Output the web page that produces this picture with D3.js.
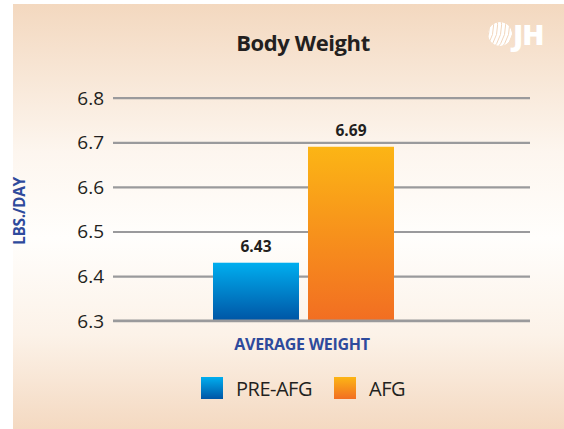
<!DOCTYPE html>
<html><head><meta charset="utf-8">
<script src="https://cdn.jsdelivr.net/npm/d3@7"></script>
<style>body{margin:0;background:#fff}svg{display:block}</style>
</head><body>
<svg id="c" width="564" height="429"></svg>
<script>
const categories = ["PRE-AFG", "AFG"];
const values = [6.43, 6.69];
const valueLabels = ["6.43", "6.69"];
const yTicks = [6.3, 6.4, 6.5, 6.6, 6.7, 6.8];
const xLabel = "AVERAGE WEIGHT";
const yLabel = "LBS./DAY";
const title = "Body Weight";

const svg = d3.select("#c");
const defs = svg.append("defs");
const font = "'Open Sans', 'Noto Sans', sans-serif";

const bg = defs.append("linearGradient").attr("id","bg").attr("x1",0).attr("y1",0).attr("x2",0).attr("y2",1);
bg.append("stop").attr("offset","0").attr("stop-color","#f3d8bf");
bg.append("stop").attr("offset","0.35").attr("stop-color","#fdf6ef");
bg.append("stop").attr("offset","0.55").attr("stop-color","#fffefc");
bg.append("stop").attr("offset","0.78").attr("stop-color","#fcf2e8");
bg.append("stop").attr("offset","1").attr("stop-color","#f4d9c1");
svg.append("rect").attr("x",13).attr("y",4).attr("width",551).attr("height",425).attr("fill","url(#bg)");

const grads = [["#00aeef","#0055a5"],["#fcb515","#f26e22"]];
grads.forEach((g,i)=>{
  const lg = defs.append("linearGradient").attr("id","g"+i).attr("x1",0).attr("y1",0).attr("x2",0).attr("y2",1);
  lg.append("stop").attr("offset","0").attr("stop-color",g[0]);
  lg.append("stop").attr("offset","1").attr("stop-color",g[1]);
});

const y = d3.scaleLinear().domain([6.3, 6.8]).range([320.7, 97.7]);
const x = d3.scaleBand().domain(categories).range([213, 394]).paddingInner(9/95).paddingOuter(0);

// gridlines
const yAxis = d3.axisLeft(y).tickValues(yTicks).tickFormat(d3.format(".1f")).tickSize(-417).tickPadding(12);
const ga = svg.append("g").attr("transform","translate(113,0)").call(yAxis);
ga.select(".domain").remove();
ga.selectAll(".tick line").attr("stroke","#9a9a9c").attr("stroke-width",2.2);
ga.selectAll(".tick text").attr("font-family",font).attr("font-size",19).attr("fill","#231f20").attr("x",-9).attr("dy","0.34em");

// bars
svg.selectAll("rect.bar").data(values).join("rect").attr("class","bar")
  .attr("x",(d,i)=>x(categories[i])).attr("width",x.bandwidth())
  .attr("y",d=>y(d)).attr("height",d=>y(6.3)-y(d))
  .attr("fill",(d,i)=>`url(#g${i})`);

// baseline redraw over bars
svg.append("line").attr("x1",113).attr("x2",530).attr("y1",y(6.3)).attr("y2",y(6.3)).attr("stroke","#9a9a9c").attr("stroke-width",2.2);

// value labels
svg.selectAll("text.val").data(values).join("text").attr("class","val")
  .attr("x",(d,i)=>x(categories[i])+x.bandwidth()/2).attr("y",d=>y(d)-11)
  .attr("text-anchor","middle").attr("font-family",font).attr("font-weight",700).attr("font-size",15.5).attr("fill","#231f20")
  .text((d,i)=>valueLabels[i]);

// title
svg.append("text").attr("x",303).attr("y",51).attr("text-anchor","middle").attr("font-family",font)
  .attr("font-weight",700).attr("font-size",22).attr("fill","#231f20").attr("letter-spacing",-0.4).text(title);

// axis labels
svg.append("text").attr("transform","translate(25,211) rotate(-90)").attr("text-anchor","middle")
  .attr("font-family",font).attr("font-weight",700).attr("font-size",15.5).attr("fill","#2e4a9c").attr("letter-spacing",-0.3).text(yLabel);
svg.append("text").attr("x",302).attr("y",350).attr("text-anchor","middle")
  .attr("font-family",font).attr("font-weight",700).attr("font-size",16).attr("fill","#2e4a9c").attr("letter-spacing",-0.3).text(xLabel);

// legend
const legX = [201, 334];
const leg = svg.selectAll("g.leg").data(categories).join("g").attr("class","leg")
  .attr("transform",(d,i)=>`translate(${legX[i]},377)`);
leg.append("rect").attr("width",22).attr("height",22).attr("fill",(d,i)=>`url(#g${i})`);
leg.append("text").attr("x",35).attr("y",18.5).attr("font-family",font).attr("font-size",20).attr("fill","#231f20").attr("letter-spacing",-0.5).text(d=>d);

// logo
const cp = defs.append("clipPath").attr("id","lc");
cp.append("circle").attr("cx",500).attr("cy",34).attr("r",12);
const lg = svg.append("g").attr("clip-path","url(#lc)");
lg.append("circle").attr("cx",500).attr("cy",34).attr("r",12).attr("fill","#ffffff");
for (let k=-5;k<=5;k++){
  lg.append("path").attr("d",`M${486+k*4},52 Q${502+k*4},36 ${496+k*4},14`).attr("stroke","#f2d6bc").attr("stroke-width",1).attr("fill","none");
}
svg.append("text").attr("x",513).attr("y",45).attr("font-family",font).attr("font-weight",800).attr("font-size",29).attr("fill","#ffffff").attr("letter-spacing",-1).text("JH");
</script>
</body></html>
